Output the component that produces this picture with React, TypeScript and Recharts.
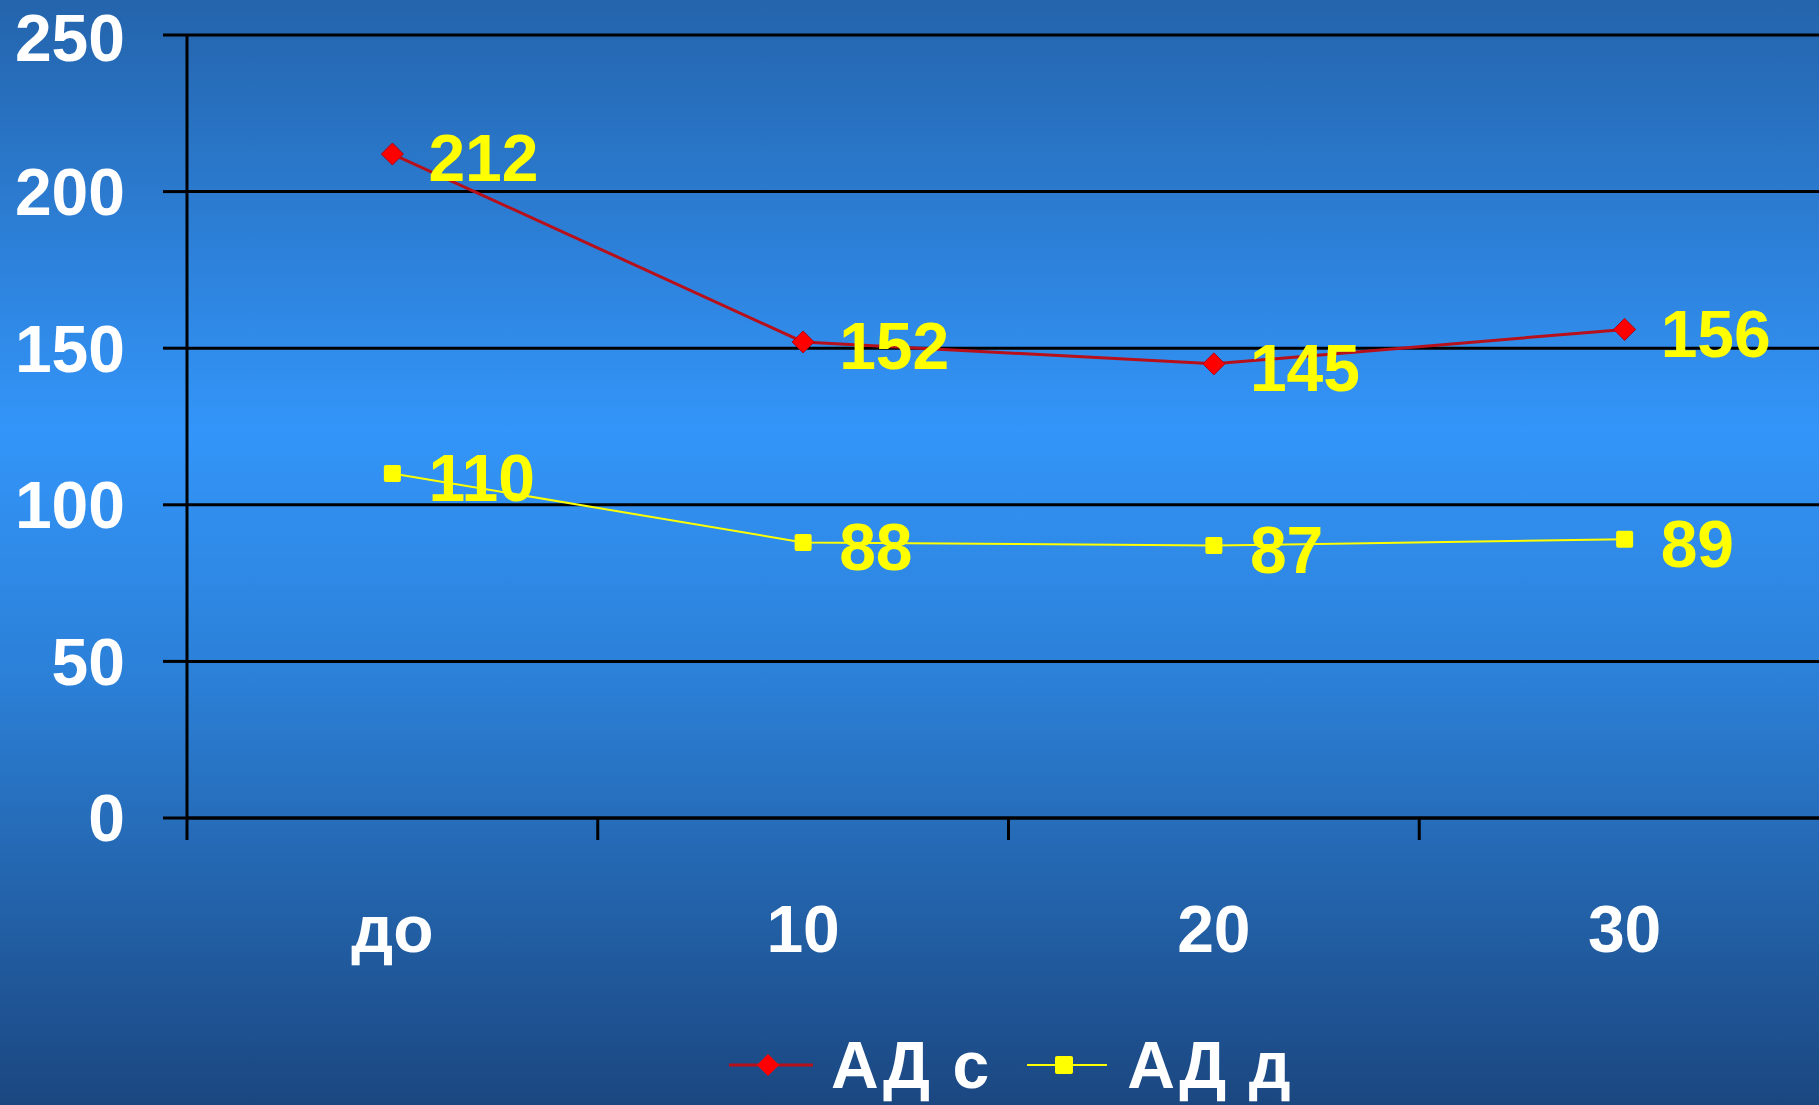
import React from "react";
import { LineChart, Line, XAxis, YAxis, CartesianGrid, Legend, LabelList } from "recharts";

// время (мин) и давление
const categories = ["до", "10", "20", "30"];
const adSystolic = [212, 152, 145, 156];
const adDiastolic = [110, 88, 87, 89];
const yTicks = [0, 50, 100, 150, 200, 250];

const FONT = '"Liberation Sans", Arial, sans-serif';
const RED_LINE = "#b8101a";
const RED_DOT = "#ff0000";
const YELLOW = "#ffff00";

const CHART_W = 1830;
const AXIS_W = 187;

var chartData: { name: string; s: number; d: number }[] = [];
for (var i = 0; i < categories.length; i++) {
  chartData.push({ name: categories[i], s: adSystolic[i], d: adDiastolic[i] });
}

function DiamondDot(props: any) {
  var cx = props.cx;
  var cy = props.cy;
  if (cx == null || cy == null) return null;
  var r = 11;
  var pts = cx + "," + (cy - r) + " " + (cx + r) + "," + cy + " " + cx + "," + (cy + r) + " " + (cx - r) + "," + cy;
  return <polygon key={"dd-" + props.index} points={pts} fill={RED_DOT} stroke="#b00010" strokeWidth={1} />;
}

function SquareDot(props: any) {
  var cx = props.cx;
  var cy = props.cy;
  if (cx == null || cy == null) return null;
  var s = 17;
  return <rect key={"sd-" + props.index} x={cx - s / 2} y={cy - s / 2} width={s} height={s} rx={2} fill={YELLOW} />;
}

function renderValue(props: any) {
  var x = Number(props.x);
  var y = Number(props.y);
  return (
    <text
      x={x + 36}
      y={y + 4}
      dy="0.355em"
      textAnchor="start"
      fill={YELLOW}
      fontSize={66}
      fontWeight="bold"
      fontFamily={FONT}
    >
      {props.value}
    </text>
  );
}

// подпись категории + засечка на границе между категориями (как в Excel)
function CategoryTick(props: any) {
  var half = props.payload && props.payload.offset ? props.payload.offset : (CHART_W - AXIS_W) / categories.length / 2;
  var edgeX = props.x - half;
  var axisY = props.y - 87;
  return (
    <g>
      <line x1={edgeX} y1={axisY} x2={edgeX} y2={axisY + 22} stroke="#000000" strokeWidth={3} />
      <text
        x={props.x}
        y={props.y}
        dy="0.71em"
        textAnchor="middle"
        fill="#ffffff"
        fontSize={66}
        fontWeight="bold"
        fontFamily={FONT}
      >
        {props.payload.value}
      </text>
    </g>
  );
}

function renderLegend() {
  return (
    <div style={styles.legend}>
      <svg width={84} height={30}>
        <line x1={0} y1={15} x2={84} y2={15} stroke={RED_LINE} strokeWidth={3} />
        <polygon points="39,4 50,15 39,26 28,15" fill={RED_DOT} />
      </svg>
      <span style={{ marginLeft: 18, letterSpacing: 2 }}>АД с</span>
      <svg width={80} height={30} style={{ marginLeft: 36 }}>
        <line x1={0} y1={15} x2={80} y2={15} stroke={YELLOW} strokeWidth={2} />
        <rect x={28} y={6} width={18} height={18} rx={2} fill={YELLOW} />
      </svg>
      <span style={{ marginLeft: 20, letterSpacing: 2 }}>АД д</span>
    </div>
  );
}

export default function App() {
  return (
    <div style={styles.page}>
      <LineChart
        width={CHART_W}
        height={1105}
        data={chartData}
        margin={{ top: 35, right: 0, left: 0, bottom: 167 }}
      >
        <CartesianGrid vertical={false} stroke="#000000" strokeWidth={3} />
        <XAxis
          dataKey="name"
          scale="band"
          axisLine={{ stroke: "#000000", strokeWidth: 3 }}
          tickLine={false}
          tickSize={0}
          tickMargin={87}
          tick={<CategoryTick />}
          height={120}
          interval={0}
        />
        <YAxis
          domain={[0, 250]}
          ticks={yTicks}
          width={AXIS_W}
          axisLine={{ stroke: "#000000", strokeWidth: 3 }}
          tickLine={{ stroke: "#000000", strokeWidth: 3 }}
          tickSize={24}
          tickMargin={38}
          tick={{ fill: "#ffffff", fontSize: 66, fontWeight: "bold", fontFamily: FONT }}
        />
        <Legend
          verticalAlign="middle"
          align="center"
          content={renderLegend}
          wrapperStyle={{ left: 729, top: 1032, width: "auto", height: 66 }}
        />
        <Line
          type="linear"
          dataKey="s"
          name="АД с"
          stroke={RED_LINE}
          strokeWidth={3}
          dot={<DiamondDot />}
          activeDot={false}
          isAnimationActive={false}
        >
          <LabelList dataKey="s" content={renderValue} />
        </Line>
        <Line
          type="linear"
          dataKey="d"
          name="АД д"
          stroke={YELLOW}
          strokeWidth={2}
          dot={<SquareDot />}
          activeDot={false}
          isAnimationActive={false}
        >
          <LabelList dataKey="d" content={renderValue} />
        </Line>
      </LineChart>
    </div>
  );
}

const styles = {
  page: {
    position: "absolute" as const,
    left: 0,
    top: 0,
    width: 1819,
    height: 1105,
    overflow: "hidden" as const,
    background: "linear-gradient(to bottom, #2464ac 0%, #3395f9 39%, #2b7fd6 62%, #1b4780 100%)",
  },
  legend: {
    display: "flex",
    alignItems: "center",
    fontFamily: FONT,
    fontSize: 66,
    fontWeight: "bold" as const,
    color: "#ffffff",
    lineHeight: "66px",
    whiteSpace: "nowrap" as const,
  },
};
